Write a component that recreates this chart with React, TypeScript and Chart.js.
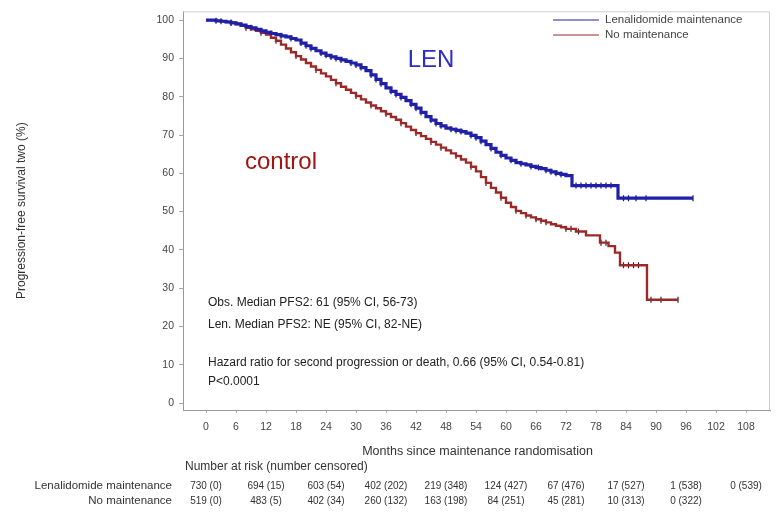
import React, { useEffect, useRef } from "react";
import { Chart, registerables } from "chart.js";

Chart.register(...registerables);

// ---------- data ----------
const lenMonths = [
  0, 1, 2, 3, 4, 5, 6, 7, 8, 9, 10, 11, 12, 13, 14, 15, 16, 17, 18, 19, 20, 21, 22, 23, 24, 25, 26, 27, 28, 29,
  30, 31, 32, 33, 34, 35, 36, 37, 38, 39, 40, 41, 42, 43, 44, 45, 46, 47, 48, 49, 50, 51, 52, 53, 54, 55, 56, 57, 58, 59,
  60, 61, 62, 63, 64, 65, 66, 67, 68, 69, 70, 71, 72, 73.2, 82.4, 97.4,
];
const lenSurv = [
  100, 100, 99.8, 99.7, 99.5, 99.3, 99, 98.7, 98.3, 98, 97.6, 97.2, 96.8, 96.5, 96.2, 95.9, 95.6, 95.2, 94.8, 94, 93.3, 92.6, 92, 91.4, 90.8, 90.4, 90, 89.6, 89.2, 88.8,
  88.3, 87.6, 86.8, 85.7, 84.5, 83.4, 82.3, 81.4, 80.6, 79.8, 79, 78, 77, 75.9, 74.8, 73.9, 73, 72.4, 71.8, 71.5, 71.2, 70.9, 70.5, 69.9, 69.3, 68.4, 67.5, 66.5, 65.5, 64.7,
  64, 63.4, 62.8, 62.5, 62.2, 61.8, 61.5, 61.2, 60.8, 60.4, 60, 59.7, 59.4, 56.8, 53.5, 53.5,
];

const ctlMonths = [
  0, 1, 2, 3, 4, 5, 6, 7, 8, 9, 10, 11, 12, 13, 14, 15, 16, 17, 18, 19, 20, 21, 22, 23, 24, 25, 26, 27, 28, 29,
  30, 31, 32, 33, 34, 35, 36, 37, 38, 39, 40, 41, 42, 43, 44, 45, 46, 47, 48, 49, 50, 51, 52, 53, 54, 55, 56, 57, 58, 59,
  60, 61, 62, 63, 64, 65, 66, 67, 68, 69, 70, 71, 72, 74, 76, 78.8, 80.5, 81.8, 82.8, 88.2, 94.4,
];
const ctlSurv = [
  100, 100, 99.8, 99.7, 99.5, 99.3, 99, 98.5, 98, 97.6, 97.2, 96.7, 96.2, 95.4, 94.6, 93.6, 92.6, 91.6, 90.6, 89.7, 88.8, 87.9, 87, 86.1, 85.3, 84.4, 83.5, 82.6, 81.8, 81,
  80.2, 79.3, 78.5, 77.7, 77, 76.2, 75.5, 74.7, 74, 73.1, 72.2, 71.3, 70.5, 69.7, 69, 68.2, 67.5, 66.7, 66, 65.2, 64.5, 63.6, 62.8, 61.7, 60.5, 59, 57.5, 56.2, 55, 53.6,
  52.3, 51.2, 50.2, 49.6, 49, 48.5, 48, 47.6, 47.2, 46.7, 46.3, 45.9, 45.5, 44.8, 43.8, 41.9, 41, 39.3, 36, 27, 27,
];

const lenCensored = [3, 5, 9, 13, 15, 17, 19, 20, 21, 23, 24, 25, 26, 27, 29, 30, 31, 33, 34, 35, 37, 38, 39, 41, 42, 43, 45, 46, 47, 49, 50, 51, 53, 54, 55, 57, 59, 61, 63, 65, 66.5, 68, 69, 70, 71, 74, 75, 76, 77, 78, 79, 80, 81, 83.5, 84.5, 86, 88, 97.4];
const ctlCensored = [2, 5, 8, 11, 14, 18, 22, 26, 30, 33, 36, 39, 42, 45, 47, 50, 53, 56, 59, 62, 64, 66, 67, 68, 72, 73, 74.5, 79, 80, 83.5, 84.5, 85.5, 86.5, 89, 91, 94.4];

const xTicks = [0, 6, 12, 18, 24, 30, 36, 42, 48, 54, 60, 66, 72, 78, 84, 90, 96, 102, 108];
const yTicks = [0, 10, 20, 30, 40, 50, 60, 70, 80, 90, 100];

const seriesNames = ["Lenalidomide maintenance", "No maintenance"];
const riskMonths = [0, 12, 24, 36, 48, 60, 72, 84, 96, 108];
const lenAtRisk = ["730 (0)", "694 (15)", "603 (54)", "402 (202)", "219 (348)", "124 (427)", "67 (476)", "17 (527)", "1 (538)", "0 (539)"];
const ctlAtRisk = ["519 (0)", "483 (5)", "402 (34)", "260 (132)", "163 (198)", "84 (251)", "45 (281)", "10 (313)", "0 (322)"];

const annotations = [
  "Obs. Median PFS2: 61 (95% CI, 56-73)",
  "Len. Median PFS2: NE (95% CI, 82-NE)",
  "Hazard ratio for second progression or death, 0.66 (95% CI, 0.54-0.81)",
  "P<0.0001",
];

const BLUE = "#1f1fa8";
const RED = "#9a2a2a";
const FONT = "'Liberation Sans', Arial, sans-serif";

function stepValue(times: number[], vals: number[], t: number) {
  let v = vals[0];
  for (let i = 0; i < times.length; i++) {
    if (times[i] <= t) v = vals[i];
  }
  return v;
}

function pts(times: number[], vals: number[]) {
  return times.map((t, i) => ({ x: t, y: vals[i] }));
}

function censorPts(c: number[], times: number[], vals: number[]) {
  return c.map((t) => ({ x: t, y: stepValue(times, vals, t) }));
}

const textPlugin = {
  id: "kmText",
  afterDraw(chart: any) {
    const ctx = chart.ctx as CanvasRenderingContext2D;
    const xs = chart.scales.x;
    const ca = chart.chartArea;
    ctx.save();

    // frame (top & right)
    ctx.strokeStyle = "#d0d0d0";
    ctx.lineWidth = 1;
    ctx.beginPath();
    ctx.moveTo(ca.left, ca.top + 0.5);
    ctx.lineTo(ca.right - 0.5, ca.top + 0.5);
    ctx.lineTo(ca.right - 0.5, ca.bottom);
    ctx.stroke();

    const put = (s: string, x: number, y: number, size: number, color: string, align: CanvasTextAlign = "left") => {
      ctx.font = `${size}px ${FONT}`;
      ctx.fillStyle = color;
      ctx.textAlign = align;
      ctx.textBaseline = "middle";
      ctx.fillText(s, x, y);
    };

    // y-axis title
    ctx.save();
    ctx.translate(22, (ca.top + ca.bottom) / 2);
    ctx.rotate(-Math.PI / 2);
    put("Progression-free survival two (%)", 0, 0, 12, "#333", "center");
    ctx.restore();

    // x-axis title
    put("Months since maintenance randomisation", (ca.left + ca.right) / 2 + 1, 452, 12.5, "#333", "center");

    // legend
    const lx0 = 553, lx1 = 599;
    const legendColors = [BLUE, RED];
    const legendY = [20, 35];
    seriesNames.forEach((n, i) => {
      ctx.strokeStyle = legendColors[i];
      ctx.lineWidth = 1.2;
      ctx.beginPath();
      ctx.moveTo(lx0, legendY[i]);
      ctx.lineTo(lx1, legendY[i]);
      ctx.stroke();
      put(n, 605, legendY[i], 11.5, "#444");
    });

    // big labels
    put("LEN", 431, 60, 24, "#2d2dc4", "center");
    put("control", 245, 162, 24, "#a01414");

    // annotations
    const ay = [303, 325, 363, 382];
    annotations.forEach((a, i) => put(a, 208, ay[i], 12, "#222"));

    // number at risk
    put("Number at risk (number censored)", 185, 467, 12, "#333");
    put(seriesNames[0], 172, 486, 11.5, "#333", "right");
    put(seriesNames[1], 172, 501, 11.5, "#333", "right");
    riskMonths.forEach((m, i) => {
      const px = xs.getPixelForValue(m);
      if (lenAtRisk[i] !== undefined) put(lenAtRisk[i], px, 486, 10, "#333", "center");
      if (ctlAtRisk[i] !== undefined) put(ctlAtRisk[i], px, 501, 10, "#333", "center");
    });

    ctx.restore();
  },
};

export default function App() {
  const ref = useRef<HTMLCanvasElement | null>(null);

  useEffect(() => {
    if (!ref.current) return;
    const chart = new Chart(ref.current, {
      type: "line",
      data: {
        datasets: [
          {
            label: seriesNames[0],
            data: pts(lenMonths, lenSurv),
            borderColor: BLUE,
            borderWidth: 3.2,
            stepped: true,
            pointRadius: 0,
            fill: false,
          },
          {
            label: seriesNames[1],
            data: pts(ctlMonths, ctlSurv),
            borderColor: RED,
            borderWidth: 2.4,
            stepped: true,
            pointRadius: 0,
            fill: false,
          },
          {
            label: "len-censored",
            data: censorPts(lenCensored, lenMonths, lenSurv),
            showLine: false,
            pointStyle: "line",
            rotation: 90,
            pointRadius: 3,
            pointBorderWidth: 1.2,
            borderColor: "#141470",
            backgroundColor: "#141470",
          },
          {
            label: "ctl-censored",
            data: censorPts(ctlCensored, ctlMonths, ctlSurv),
            showLine: false,
            pointStyle: "line",
            rotation: 90,
            pointRadius: 3,
            pointBorderWidth: 1.2,
            borderColor: "#3a1a1a",
            backgroundColor: "#3a1a1a",
          },
        ],
      },
      options: {
        animation: false,
        responsive: false,
        maintainAspectRatio: false,
        events: [],
        layout: { padding: { left: 0, right: 9, top: 5, bottom: 0 }, autoPadding: false },
        plugins: { legend: { display: false }, tooltip: { enabled: false } },
        scales: {
          x: {
            type: "linear",
            min: -4.6,
            max: 112.8,
            afterFit: (s: any) => {
              s.height = 105;
            },
            afterBuildTicks: (s: any) => {
              s.ticks = xTicks.map((v) => ({ value: v }));
            },
            ticks: {
              autoSkip: false,
              maxRotation: 0,
              padding: 8,
              color: "#444",
              font: { family: FONT, size: 10.5 },
            },
            grid: { drawOnChartArea: false, drawTicks: true, tickLength: 3, color: "#aaa" },
            border: { color: "#999", width: 1 },
          },
          y: {
            type: "linear",
            min: -1.8,
            max: 102.3,
            afterFit: (s: any) => {
              s.width = 183;
            },
            afterBuildTicks: (s: any) => {
              s.ticks = yTicks.map((v) => ({ value: v }));
            },
            ticks: {
              autoSkip: false,
              padding: 5,
              color: "#444",
              font: { family: FONT, size: 10.5 },
            },
            grid: { drawOnChartArea: false, drawTicks: true, tickLength: 4, color: "#aaa" },
            border: { color: "#999", width: 1 },
          },
        },
      },
      plugins: [textPlugin],
    } as any);
    return () => chart.destroy();
  }, []);

  return (
    <div style={{ position: "fixed", left: 0, top: 0, width: 779, height: 515, background: "#fff" }}>
      <canvas ref={ref} width={779} height={515} style={{ width: 779, height: 515, display: "block" }} />
    </div>
  );
}
